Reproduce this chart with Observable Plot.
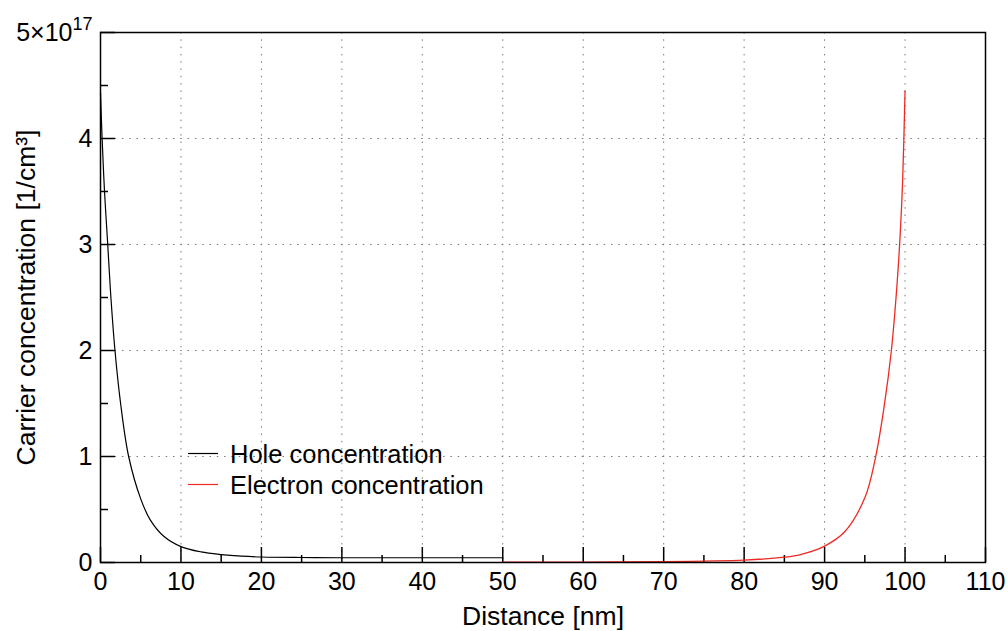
<!DOCTYPE html>
<html><head><meta charset="utf-8">
<script src="https://cdn.jsdelivr.net/npm/d3@7"></script>
<script src="https://cdn.jsdelivr.net/npm/@observablehq/plot@0.6"></script>
<style>body{margin:0;background:#fff}</style>
</head><body><div id="chart"></div>
<script>
// Distance [nm] and concentration [1e17 / cm^3]
const holeX = [0, 0.2, 0.5, 0.9, 1.25, 1.8, 2.5, 3.5, 5, 6.2, 7.9, 10, 12.5, 15, 17.5, 20, 25, 30, 40, 50];
const holeV = [4.43, 4.0, 3.5, 3.0, 2.55, 2.0, 1.5, 1.0, 0.6, 0.40, 0.245, 0.15, 0.10, 0.075, 0.06, 0.052, 0.047, 0.045, 0.045, 0.045];
const elecX = [50, 60, 70, 75, 80, 85, 87, 90, 92.5, 95, 96.3, 97.4, 98.3, 99.0, 99.4, 99.7, 100];
const elecV = [0.003, 0.004, 0.007, 0.013, 0.022, 0.05, 0.075, 0.155, 0.29, 0.61, 0.98, 1.47, 2.0, 2.62, 3.1, 3.6, 4.45];
const xTicks = [0, 10, 20, 30, 40, 50, 60, 70, 80, 90, 100, 110];
const xMinorTicks = [5, 15, 25, 35, 45, 55, 65, 75, 85, 95, 105];
const yTicks = [0, 1, 2, 3, 4, 5];
const yMinorTicks = [0.5, 1.5, 2.5, 3.5, 4.5];
const seriesNames = ["Hole concentration", "Electron concentration"];
const seriesColors = ["#000000", "#ee2a22"];
const xLabel = "Distance [nm]";
const yLabel = "Carrier concentration [1/cm³]";

const hole = holeX.map((x, i) => ({x, v: holeV[i]}));
const elec = elecX.map((x, i) => ({x, v: elecV[i]}));
const gridStyle = {stroke: "#7a7a7a", strokeOpacity: 1, strokeWidth: 1, strokeDasharray: "1.5,5.8"};
const FONT = "'Liberation Sans', Arial, sans-serif";

const plot = Plot.plot({
  width: 1008, height: 631,
  marginLeft: 100, marginRight: 23, marginTop: 32, marginBottom: 69,
  style: {fontFamily: FONT, fontSize: "25px", color: "#000", background: "#fff"},
  x: {domain: [0, 110]},
  y: {domain: [0, 5]},
  marks: [
    Plot.gridX(xTicks.slice(1, -1), gridStyle),
    Plot.gridY(yTicks.slice(1, -1), gridStyle),
    Plot.axisX(xMinorTicks, {tickSize: -7, tickFormat: () => "", label: null, strokeWidth: 1.5}),
    Plot.axisX(xTicks, {tickSize: -15, tickFormat: () => "", label: null, strokeWidth: 1.5}),
    Plot.axisX(xTicks, {tickSize: 0, tickPadding: 10, label: xLabel, labelAnchor: "center", labelOffset: 62, labelArrow: "none"}),
    Plot.axisY(yMinorTicks, {tickSize: -8, tickFormat: () => "", label: null, strokeWidth: 1.5}),
    Plot.axisY(yTicks, {tickSize: -15, tickFormat: () => "", label: null, strokeWidth: 1.5}),
    Plot.axisY(yTicks, {tickSize: 0, tickPadding: 8, label: yLabel, labelAnchor: "center", labelOffset: 84, labelArrow: "none",
      tickFormat: d => d === 5 ? "5×10" : String(d)}),
    Plot.line(hole, {x: "x", y: "v", stroke: seriesColors[0], strokeWidth: 1.2, curve: "catmull-rom"}),
    Plot.line(elec, {x: "x", y: "v", stroke: seriesColors[1], strokeWidth: 1.3, curve: "catmull-rom"}),
    Plot.frame({stroke: "#000", strokeWidth: 1.5})
  ]
});
document.getElementById("chart").appendChild(plot);

const svg = d3.select(plot);
svg.selectAll("text").filter(function() { return this.textContent === "5×10"; })
  .append("tspan").attr("dy", "-0.6em").style("font-size", "18px").text("17");
svg.selectAll("text").filter(function() { return this.textContent === xLabel || this.textContent === yLabel; })
  .style("font-size", "26.5px");

// legend
const lg = svg.append("g").attr("font-family", FONT).style("font-size", "25.5px").attr("text-anchor", "start");
seriesNames.forEach((name, i) => {
  const y = 453.5 + i * 31;
  lg.append("line").attr("x1", 188).attr("x2", 218).attr("y1", y).attr("y2", y)
    .attr("stroke", seriesColors[i]).attr("stroke-width", 1.2);
  lg.append("text").attr("x", 230).attr("y", y + 9).attr("fill", "#000").text(name);
});
</script>
</body></html>
